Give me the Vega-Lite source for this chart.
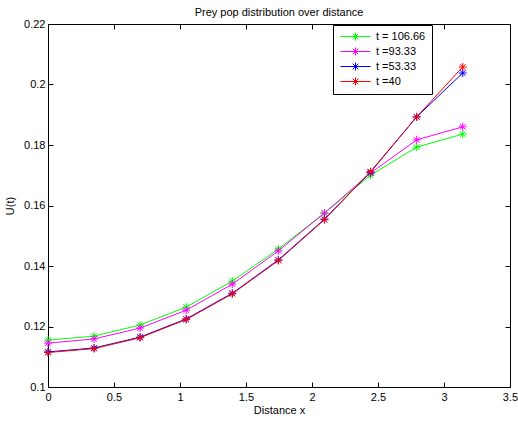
{
  "$schema": "https://vega.github.io/schema/vega-lite/v6.json",
  "autosize": "none",
  "width": 462,
  "height": 363,
  "padding": {"left": 48, "top": 24, "right": 8, "bottom": 34},
  "background": "white",
  "config": {
    "font": "Liberation Sans",
    "view": {"stroke": "black", "strokeWidth": 1},
    "axis": {"grid": false, "domain": false, "tickColor": "black", "labelColor": "black", "titleColor": "black", "labelFontSize": 11, "titleFontSize": 11, "titleFontWeight": "normal", "labelFont": "Liberation Sans", "titleFont": "Liberation Sans"}
  },
  "title": {"text": "Prey pop distribution over distance", "fontSize": 11, "fontWeight": "normal", "font": "Liberation Sans", "color": "black", "offset": 0},
  "data": {"values": [
    {"x": 0, "U": 0.1155, "s": "t = 106.66"},
    {"x": 0.349, "U": 0.1168, "s": "t = 106.66"},
    {"x": 0.698, "U": 0.1205, "s": "t = 106.66"},
    {"x": 1.047, "U": 0.1264, "s": "t = 106.66"},
    {"x": 1.396, "U": 0.135, "s": "t = 106.66"},
    {"x": 1.745, "U": 0.1456, "s": "t = 106.66"},
    {"x": 2.094, "U": 0.1575, "s": "t = 106.66"},
    {"x": 2.443, "U": 0.170, "s": "t = 106.66"},
    {"x": 2.793, "U": 0.1793, "s": "t = 106.66"},
    {"x": 3.142, "U": 0.1836, "s": "t = 106.66"},
    {"x": 0, "U": 0.1145, "s": "t =93.33"},
    {"x": 0.349, "U": 0.1159, "s": "t =93.33"},
    {"x": 0.698, "U": 0.1195, "s": "t =93.33"},
    {"x": 1.047, "U": 0.1254, "s": "t =93.33"},
    {"x": 1.396, "U": 0.134, "s": "t =93.33"},
    {"x": 1.745, "U": 0.145, "s": "t =93.33"},
    {"x": 2.094, "U": 0.1575, "s": "t =93.33"},
    {"x": 2.443, "U": 0.1707, "s": "t =93.33"},
    {"x": 2.793, "U": 0.1817, "s": "t =93.33"},
    {"x": 3.142, "U": 0.186, "s": "t =93.33"},
    {"x": 0, "U": 0.1116, "s": "t =53.33"},
    {"x": 0.349, "U": 0.1129, "s": "t =53.33"},
    {"x": 0.698, "U": 0.1165, "s": "t =53.33"},
    {"x": 1.047, "U": 0.1225, "s": "t =53.33"},
    {"x": 1.396, "U": 0.131, "s": "t =53.33"},
    {"x": 1.745, "U": 0.142, "s": "t =53.33"},
    {"x": 2.094, "U": 0.1555, "s": "t =53.33"},
    {"x": 2.443, "U": 0.171, "s": "t =53.33"},
    {"x": 2.793, "U": 0.1893, "s": "t =53.33"},
    {"x": 3.142, "U": 0.2038, "s": "t =53.33"},
    {"x": 0, "U": 0.1114, "s": "t =40"},
    {"x": 0.349, "U": 0.1127, "s": "t =40"},
    {"x": 0.698, "U": 0.1163, "s": "t =40"},
    {"x": 1.047, "U": 0.1223, "s": "t =40"},
    {"x": 1.396, "U": 0.1308, "s": "t =40"},
    {"x": 1.745, "U": 0.1418, "s": "t =40"},
    {"x": 2.094, "U": 0.1553, "s": "t =40"},
    {"x": 2.443, "U": 0.1712, "s": "t =40"},
    {"x": 2.793, "U": 0.1893, "s": "t =40"},
    {"x": 3.142, "U": 0.2058, "s": "t =40"}
  ]},
  "resolve": {"scale": {"x": "independent", "y": "independent"}, "axis": {"x": "independent", "y": "independent"}},
  "layer": [
    {
      "encoding": {
        "x": {"field": "x", "type": "quantitative", "scale": {"domain": [0, 3.5], "nice": false, "zero": false},
          "axis": {"orient": "bottom", "title": "Distance x", "values": [0, 0.5, 1, 1.5, 2, 2.5, 3, 3.5], "format": "~g", "tickSize": -5, "labelPadding": 9, "titlePadding": 2, "labelFlush": false}},
        "y": {"field": "U", "type": "quantitative", "scale": {"domain": [0.1, 0.22], "nice": false, "zero": false},
          "axis": {"orient": "left", "title": "U(t)", "values": [0.1, 0.12, 0.14, 0.16, 0.18, 0.2, 0.22], "format": "~g", "tickSize": -5, "labelPadding": 8, "titlePadding": 8, "labelFlush": false}},
        "color": {"field": "s", "type": "nominal",
          "scale": {"domain": ["t = 106.66", "t =93.33", "t =53.33", "t =40"], "range": ["#00ff00", "#ff00ff", "#0000ff", "#ff0000"]},
          "legend": {"title": null, "orient": "none", "legendX": 285, "legendY": 1,
            "symbolType": "M-3.75,0L3.75,0M0,-1L0,1M-0.7,-0.7L0.7,0.7M-0.7,0.7L0.7,-0.7",
            "symbolSize": 64, "symbolStrokeWidth": 1, "symbolFillColor": "transparent",
            "labelFontSize": 11, "labelFont": "Liberation Sans", "labelColor": "black",
            "strokeColor": "black", "fillColor": "white", "padding": 6, "symbolOffset": 11, "labelOffset": 15, "rowPadding": 2, "cornerRadius": 0}}
      },
      "layer": [
        {"mark": {"type": "line", "strokeWidth": 1}},
        {"mark": {"type": "point", "shape": "M-1,0L1,0M0,-1L0,1M-0.7,-0.7L0.7,0.7M-0.7,0.7L0.7,-0.7", "filled": false, "size": 64, "strokeWidth": 1, "opacity": 1}}
      ]
    },
    {"mark": {"type": "point", "opacity": 0},
      "encoding": {
        "x": {"field": "x", "type": "quantitative", "scale": {"domain": [0, 3.5], "nice": false, "zero": false}, "axis": {"orient": "top", "values": [0, 0.5, 1, 1.5, 2, 2.5, 3, 3.5], "labels": false, "title": null, "tickSize": -5}},
        "y": {"field": "U", "type": "quantitative", "scale": {"domain": [0.1, 0.22], "nice": false, "zero": false}, "axis": {"orient": "right", "values": [0.1, 0.12, 0.14, 0.16, 0.18, 0.2, 0.22], "labels": false, "title": null, "tickSize": -5}}
      }}
  ]
}
